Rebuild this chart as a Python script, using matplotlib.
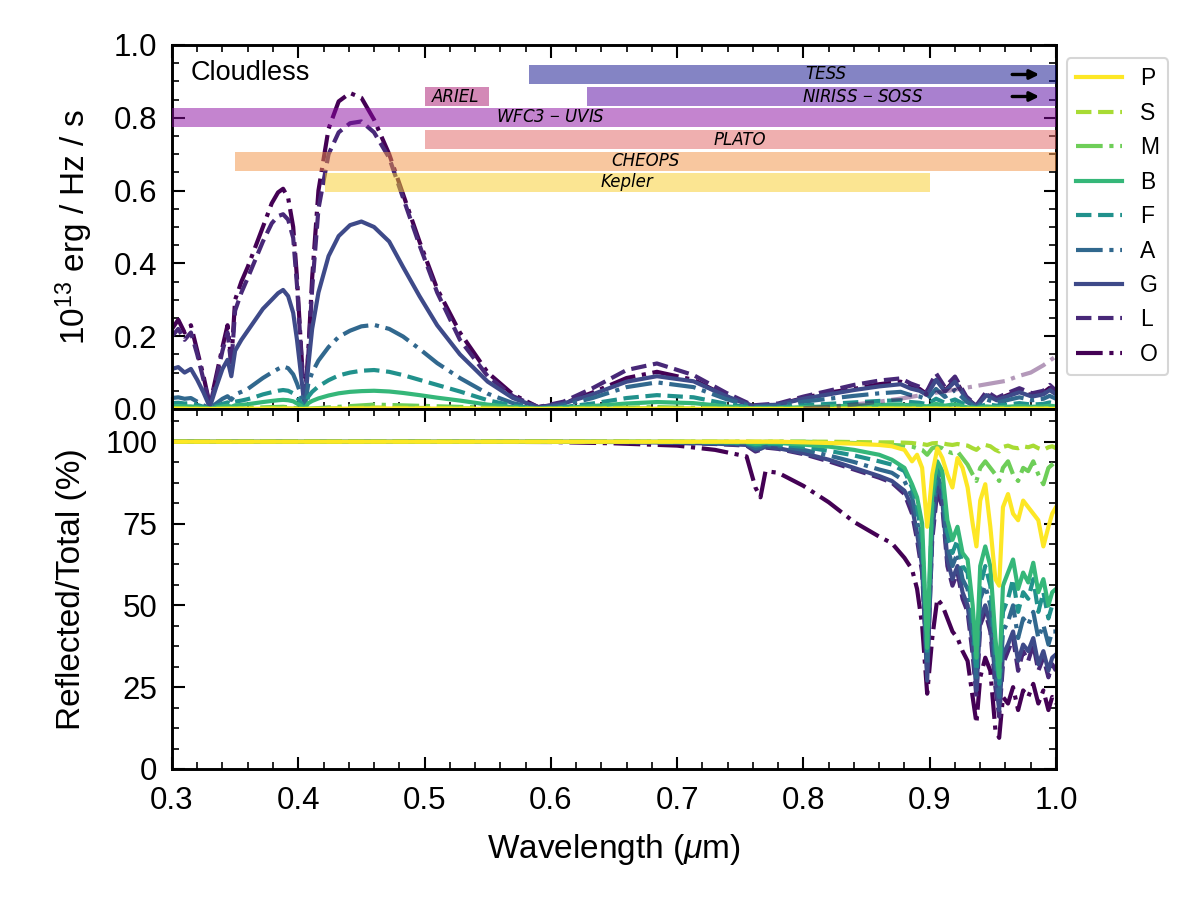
import matplotlib
matplotlib.use("Agg")
import matplotlib.pyplot as plt
from matplotlib.ticker import MultipleLocator, AutoMinorLocator

plt.rcParams['font.family'] = ['Liberation Sans', 'DejaVu Sans']
plt.rcParams['mathtext.fontset'] = 'custom'
plt.rcParams['mathtext.rm'] = 'Liberation Sans'
plt.rcParams['mathtext.it'] = 'Liberation Sans:italic'

# ------------------------------------------------------------
# data (wavelength in micron)
# ------------------------------------------------------------
types = ['P', 'S', 'M', 'B', 'F', 'A', 'G', 'L', 'O']

# top panel: flux, 1e13 erg/Hz/s
wl_top = [0.300, 0.305, 0.310, 0.315, 0.320, 0.325, 0.330, 0.335, 0.340, 0.344,
          0.347, 0.350, 0.355, 0.360, 0.366, 0.372, 0.379, 0.384, 0.388, 0.392,
          0.396, 0.399, 0.402, 0.405, 0.408, 0.411, 0.416, 0.424, 0.432, 0.441,
          0.450, 0.460, 0.472, 0.483, 0.496, 0.510, 0.528, 0.550, 0.570, 0.590,
          0.610, 0.633, 0.660, 0.684, 0.713, 0.739, 0.760, 0.780, 0.800, 0.820,
          0.840, 0.860, 0.877, 0.885, 0.892, 0.898, 0.905, 0.912, 0.920, 0.929,
          0.937, 0.945, 0.953, 0.961, 0.971, 0.981, 0.990, 0.995, 1.000]

flux_O = [0.22, 0.245, 0.21, 0.23, 0.16, 0.09, 0.01, 0.09, 0.17, 0.23,
          0.13, 0.30, 0.35, 0.39, 0.445, 0.50, 0.565, 0.595, 0.605, 0.58,
          0.50, 0.36, 0.18, 0.01, 0.16, 0.36, 0.60, 0.77, 0.845, 0.868,
          0.855, 0.795, 0.70, 0.59, 0.46, 0.33, 0.21, 0.10, 0.04, 0.005,
          0.015, 0.045, 0.085, 0.102, 0.08, 0.035, 0.008, 0.012, 0.03, 0.045,
          0.055, 0.068, 0.075, 0.062, 0.055, 0.04, 0.085, 0.05, 0.08, 0.03,
          0.008, 0.04, 0.025, 0.037, 0.05, 0.037, 0.045, 0.058, 0.045]
flux_L = [0.20, 0.22, 0.19, 0.21, 0.15, 0.08, 0.01, 0.08, 0.16, 0.21,
          0.12, 0.27, 0.32, 0.36, 0.41, 0.46, 0.51, 0.53, 0.535, 0.52,
          0.47, 0.34, 0.17, 0.01, 0.15, 0.33, 0.55, 0.70, 0.76, 0.785,
          0.79, 0.76, 0.69, 0.58, 0.45, 0.32, 0.19, 0.09, 0.035, 0.005,
          0.02, 0.057, 0.107, 0.125, 0.093, 0.044, 0.01, 0.015, 0.034, 0.05,
          0.066, 0.078, 0.084, 0.07, 0.061, 0.05, 0.098, 0.06, 0.089, 0.034,
          0.01, 0.048, 0.03, 0.043, 0.057, 0.043, 0.05, 0.066, 0.05]
flux_G = [0.11, 0.115, 0.10, 0.11, 0.08, 0.045, 0.005, 0.06, 0.11, 0.135,
          0.09, 0.16, 0.19, 0.215, 0.245, 0.275, 0.30, 0.318, 0.327, 0.31,
          0.264, 0.19, 0.10, 0.005, 0.12, 0.22, 0.32, 0.42, 0.475, 0.505,
          0.515, 0.50, 0.46, 0.39, 0.31, 0.23, 0.15, 0.075, 0.03, 0.004,
          0.015, 0.04, 0.075, 0.09, 0.076, 0.035, 0.008, 0.012, 0.028, 0.04,
          0.052, 0.062, 0.068, 0.056, 0.05, 0.038, 0.08, 0.048, 0.075, 0.028,
          0.008, 0.038, 0.024, 0.034, 0.046, 0.034, 0.04, 0.052, 0.04]
flux_A = [0.03, 0.032, 0.028, 0.03, 0.02, 0.01, 0.002, 0.015, 0.028, 0.035,
          0.025, 0.04, 0.047, 0.055, 0.07, 0.085, 0.10, 0.11, 0.117, 0.112,
          0.095, 0.07, 0.04, 0.003, 0.07, 0.10, 0.133, 0.17, 0.198, 0.215,
          0.227, 0.231, 0.22, 0.199, 0.165, 0.126, 0.085, 0.042, 0.016, 0.002,
          0.01, 0.03, 0.06, 0.073, 0.06, 0.027, 0.006, 0.008, 0.02, 0.028,
          0.036, 0.043, 0.047, 0.038, 0.034, 0.026, 0.055, 0.033, 0.052, 0.02,
          0.005, 0.026, 0.017, 0.024, 0.032, 0.024, 0.028, 0.036, 0.028]
flux_F = [0.016, 0.017, 0.015, 0.016, 0.011, 0.006, 0.001, 0.008, 0.014, 0.018,
          0.013, 0.02, 0.023, 0.027, 0.033, 0.04, 0.046, 0.05, 0.052, 0.05,
          0.043, 0.032, 0.018, 0.002, 0.034, 0.047, 0.062, 0.079, 0.092, 0.10,
          0.105, 0.107, 0.102, 0.093, 0.08, 0.066, 0.048, 0.024, 0.009, 0.001,
          0.005, 0.015, 0.03, 0.038, 0.032, 0.014, 0.003, 0.004, 0.01, 0.014,
          0.018, 0.022, 0.024, 0.019, 0.017, 0.013, 0.028, 0.017, 0.026, 0.01,
          0.003, 0.013, 0.009, 0.012, 0.016, 0.012, 0.014, 0.018, 0.014]
flux_B = [0.007, 0.008, 0.007, 0.007, 0.005, 0.003, 0.001, 0.004, 0.007, 0.009,
          0.006, 0.01, 0.011, 0.013, 0.016, 0.019, 0.022, 0.024, 0.025, 0.024,
          0.021, 0.015, 0.009, 0.001, 0.016, 0.022, 0.029, 0.037, 0.043, 0.047,
          0.049, 0.05, 0.048, 0.044, 0.038, 0.031, 0.023, 0.012, 0.005, 0.001,
          0.003, 0.008, 0.015, 0.019, 0.016, 0.007, 0.002, 0.002, 0.005, 0.007,
          0.009, 0.011, 0.012, 0.01, 0.009, 0.007, 0.014, 0.009, 0.013, 0.005,
          0.002, 0.007, 0.005, 0.006, 0.008, 0.006, 0.007, 0.009, 0.007]

# faint types, coarser sampling
wl_faint = [0.300, 0.330, 0.388, 0.405, 0.460, 0.590, 0.684, 0.760, 0.877, 0.937, 1.000]
flux_M = [0.002, 0.0, 0.006, 0.0, 0.012, 0.0, 0.005, 0.0, 0.003, 0.001, 0.002]
flux_S = [0.001, 0.0, 0.002, 0.0, 0.004, 0.0, 0.002, 0.0, 0.001, 0.0, 0.001]
flux_P = [0.0005, 0.0, 0.001, 0.0, 0.0015, 0.0, 0.0008, 0.0, 0.0005, 0.0, 0.0005]

# faded curve (thermal part, O type)
wl_thermal = [0.80, 0.82, 0.84, 0.86, 0.88, 0.90, 0.92, 0.94, 0.96, 0.97, 0.98, 0.99, 1.00]
flux_thermal = [0.002, 0.006, 0.012, 0.02, 0.03, 0.042, 0.053, 0.065, 0.077, 0.09, 0.10, 0.12, 0.145]

# bottom panel: reflected / total, %
wl_bot = [0.300, 0.500, 0.600, 0.650, 0.700, 0.730, 0.755, 0.762, 0.766, 0.770,
          0.780, 0.800, 0.820, 0.840, 0.860, 0.870, 0.880, 0.886, 0.890, 0.894,
          0.898, 0.902, 0.906, 0.910, 0.914, 0.918, 0.922, 0.926, 0.930, 0.934,
          0.937, 0.940, 0.944, 0.948, 0.952, 0.955, 0.958, 0.962, 0.966, 0.970,
          0.974, 0.978, 0.982, 0.986, 0.990, 0.994, 0.997, 1.000]

frac_O = [100, 100, 99.9, 99.5, 98.8, 97.5, 95.5, 86, 83, 91,
          90.5, 86.5, 81.5, 75.5, 71, 69, 64.5, 61, 55, 44,
          23, 40, 52, 50, 46, 42, 40, 36, 33, 22,
          14, 28, 34, 30, 12, 9.5, 22, 20, 25, 18,
          24, 22, 26, 20, 24, 18, 22, 20]
frac_L = [100, 100, 100, 99.9, 99.6, 99.3, 98.8, 97, 97.5, 98.2,
          97.8, 96.2, 94, 91.5, 89, 87.5, 84, 78, 70, 60,
          30, 70, 85, 80, 62, 56, 60, 52, 48, 35,
          22, 44, 48, 42, 25, 16, 32, 36, 40, 30,
          36, 33, 38, 30, 34, 28, 32, 30]
frac_G = [100, 100, 100, 99.9, 99.7, 99.4, 99, 97.5, 97.8, 98.5,
          98, 96.5, 94.5, 92, 89.5, 88, 85, 80, 72, 62,
          27, 72, 88, 82, 64, 58, 62, 54, 50, 38,
          24, 46, 50, 44, 28, 18, 35, 38, 42, 33,
          38, 36, 40, 32, 36, 30, 34, 35]
frac_A = [100, 100, 100, 99.95, 99.8, 99.6, 99.3, 98, 98.3, 99,
          98.7, 97.5, 95.8, 93.8, 91.5, 90.5, 88, 83, 76, 66,
          32, 76, 90, 85, 68, 62, 66, 58, 55, 42,
          28, 52, 56, 50, 32, 22, 42, 45, 50, 40,
          46, 44, 48, 40, 44, 38, 42, 42]
frac_F = [100, 100, 100, 100, 99.9, 99.8, 99.6, 98.8, 99, 99.4,
          99.2, 98.4, 97.2, 95.8, 94, 93, 91, 86, 80, 70,
          35, 80, 92, 88, 72, 66, 70, 62, 60, 46,
          30, 56, 62, 56, 36, 26, 48, 52, 58, 48,
          54, 52, 58, 48, 54, 46, 50, 50]
frac_B = [100, 100, 100, 100, 100, 99.9, 99.8, 99.3, 99.4, 99.7,
          99.6, 99.1, 98.5, 97.5, 96, 94.5, 92, 87, 83, 75,
          37, 84, 94, 91, 76, 70, 74, 66, 64, 50,
          34, 62, 68, 62, 40, 28, 56, 60, 64, 55,
          60, 57, 63, 54, 58, 50, 54, 55]
frac_M = [100, 100, 100, 100, 100, 100, 100, 99.9, 99.9, 100,
          100, 100, 99.8, 99.6, 99.3, 99, 98.8, 98.5, 98, 97.5,
          96, 98, 98.5, 98, 97, 96.5, 97, 95, 93, 90,
          88, 92, 94, 92, 90, 88, 92, 94, 90, 88,
          92, 91, 94, 90, 87, 92, 93, 94]
frac_S = [100, 100, 100, 100, 100, 100, 100, 100, 100, 100,
          100, 100, 100, 99.9, 99.8, 99.8, 99.7, 99.6, 99.4, 99.3,
          99, 99.5, 99.6, 99.5, 99.2, 99, 99.3, 99, 98.8, 98,
          97.5, 98.5, 99, 98.6, 97.5, 97, 98.4, 98.8, 98.2, 98,
          98.6, 98.3, 98.8, 98, 97.5, 98.3, 98.6, 98]
frac_P = [100, 100, 100, 100, 100, 100, 100, 100, 100, 100,
          100, 99.8, 99.6, 99.4, 99, 98.6, 97.5, 94, 96, 92,
          74, 90, 98, 95, 90, 86, 95, 92, 86, 75,
          68, 82, 87, 74, 58, 56, 80, 84, 78, 76,
          82, 80, 78, 76, 68, 74, 78, 80]

# instrument bandpasses
band_names = ['TESS', 'ARIEL', 'NIRISS $-$ SOSS', 'WFC3 $-$ UVIS', 'PLATO', 'CHEOPS', 'Kepler']
band_lo = [0.583, 0.500, 0.629, 0.20, 0.500, 0.350, 0.421]
band_hi = [1.10, 0.551, 1.10, 1.10, 1.10, 1.10, 0.900]
band_row = [0.919, 0.8585, 0.8585, 0.802, 0.740, 0.680, 0.6225]
band_label_x = [0.818, 0.525, 0.847, 0.600, 0.750, 0.675, 0.660]
band_cols = ['#0b0b8b', '#a9156f', '#5502a1', '#8b0aa1', '#e16161', '#f39141', '#f9cd27']
band_arrow = [True, False, True, False, False, False, False]

# ------------------------------------------------------------
flux_top = {'O': flux_O, 'L': flux_L, 'G': flux_G, 'A': flux_A,
            'F': flux_F, 'B': flux_B}
flux_faint = {'M': flux_M, 'S': flux_S, 'P': flux_P}
frac_bot = {'O': frac_O, 'L': frac_L, 'G': frac_G, 'A': frac_A, 'F': frac_F,
            'B': frac_B, 'M': frac_M, 'S': frac_S, 'P': frac_P}

colors = {'P': '#fde725', 'S': '#a8db34', 'M': '#6ece58', 'B': '#35b779',
          'F': '#21918c', 'A': '#31688e', 'G': '#3e4a89', 'L': '#482878', 'O': '#440154'}
styles = {'P': '-', 'S': '--', 'M': '-.', 'B': '-', 'F': '--', 'A': '-.',
          'G': '-', 'L': '--', 'O': '-.'}

fig = plt.figure(figsize=(8, 6), dpi=150)
ax1 = fig.add_axes([0.1433, 0.5456, 0.7367, 0.4044])
ax2 = fig.add_axes([0.1433, 0.1456, 0.7367, 0.4], sharex=ax1)

LW = 2.0
handles = {}
for t in types[::-1]:
    if t in flux_top:
        x, y = wl_top, flux_top[t]
    else:
        x, y = wl_faint, flux_faint[t]
    h, = ax1.plot(x, y, color=colors[t], ls=styles[t], lw=LW, label=t, zorder=2)
    handles[t] = h
    ax2.plot(wl_bot, frac_bot[t], color=colors[t], ls=styles[t], lw=LW, zorder=2)

ax1.plot(wl_thermal, flux_thermal, color=colors['O'], ls='-.', lw=LW, alpha=0.4, zorder=2)

# bandpass bars
for name, lo, hi, yc, tx, c, arr in zip(band_names, band_lo, band_hi, band_row,
                                         band_label_x, band_cols, band_arrow):
    ax1.barh(yc, hi - lo, left=lo, height=0.052, color=c, alpha=0.5,
             edgecolor='none', zorder=3)
    ax1.text(tx, yc, name, ha='center', va='center', style='italic',
             family='DejaVu Sans', fontsize=8, zorder=4)
    if arr:
        ax1.annotate('', xy=(0.99, yc), xytext=(0.962, yc),
                     arrowprops=dict(arrowstyle='-|>', color='k', lw=1.6,
                                     mutation_scale=9), zorder=5)

ax1.text(0.0215, 0.923, 'Cloudless', transform=ax1.transAxes, fontsize=13,
         ha='left', va='center')

ax1.set_xlim(0.3, 1.0)
ax1.set_ylim(0, 1.0)
ax2.set_ylim(0, 110)

ax1.yaxis.set_major_locator(MultipleLocator(0.2))
ax1.yaxis.set_minor_locator(MultipleLocator(0.05))
ax1.xaxis.set_major_locator(MultipleLocator(0.1))
ax1.xaxis.set_minor_locator(MultipleLocator(0.02))
ax2.yaxis.set_major_locator(MultipleLocator(25))
ax2.yaxis.set_minor_locator(AutoMinorLocator(4))

for ax in (ax1, ax2):
    ax.tick_params(which='both', direction='in', top=True, right=True, labelsize=15)
    ax.tick_params(which='major', length=6, width=1.0)
    ax.tick_params(which='minor', length=3.5, width=0.8)
    ax.tick_params(axis='y', which='major', pad=7)
    for s in ax.spines.values():
        s.set_linewidth(1.4)
ax2.tick_params(axis='x', which='major', pad=8)
ax1.tick_params(labelbottom=False)
ax1.yaxis.set_major_formatter(plt.FormatStrFormatter('%.1f'))

ax1.set_ylabel('10$^{13}$ erg / Hz / s', fontsize=16, labelpad=9)
ax2.set_ylabel('Reflected/Total (%)', fontsize=16, labelpad=9)
ax2.set_xlabel('Wavelength ($\\mu$m)', fontsize=16, labelpad=8)

ax1.legend([handles[t] for t in types], types, loc='upper left',
           bbox_to_anchor=(1.012, 0.964), borderaxespad=0, fontsize=11,
           frameon=True)

fig.savefig('out.png', dpi=150)
